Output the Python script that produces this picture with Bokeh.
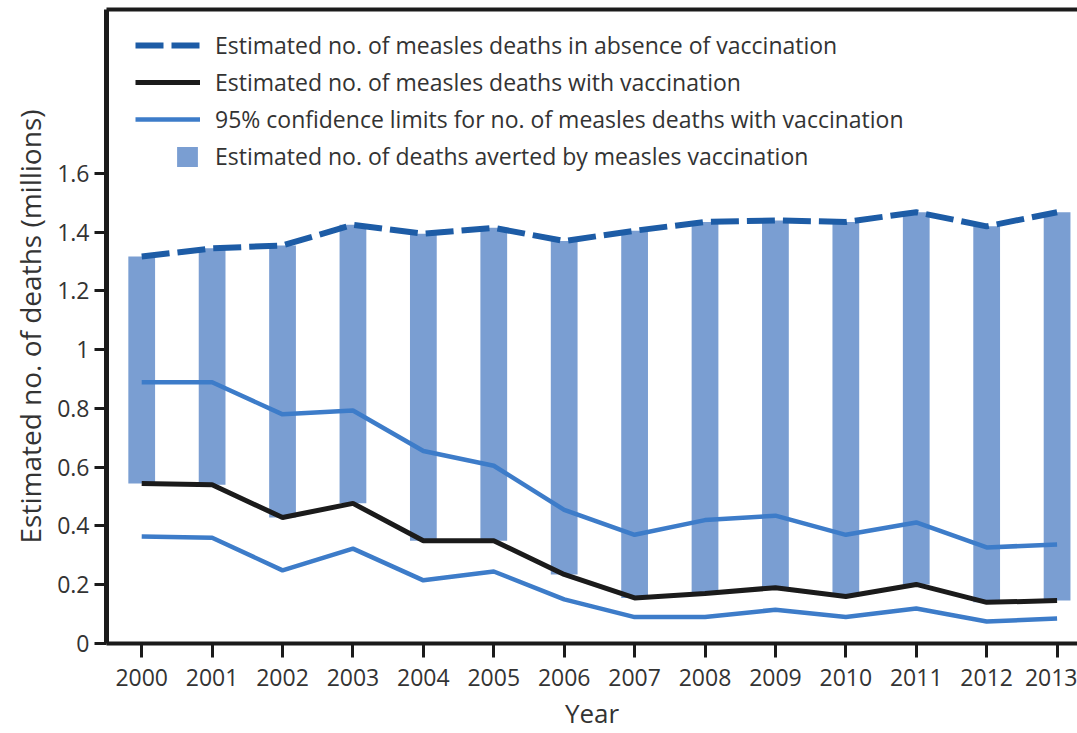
from bokeh.plotting import figure
from bokeh.models import (Range1d, FixedTicker, LinearAxis, Legend, LegendItem,
                          ColumnDataSource)
from bokeh.embed import file_html
from bokeh.resources import INLINE

# Estimated measles deaths (millions), 2000-2013
years = [2000, 2001, 2002, 2003, 2004, 2005, 2006,
         2007, 2008, 2009, 2010, 2011, 2012, 2013]
deaths_no_vaccination = [1.317, 1.345, 1.355, 1.425, 1.395, 1.415, 1.370,
                         1.405, 1.435, 1.440, 1.435, 1.468, 1.420, 1.468]
deaths_with_vaccination = [0.545, 0.540, 0.429, 0.477, 0.350, 0.350, 0.235,
                           0.155, 0.170, 0.190, 0.160, 0.201, 0.140, 0.146]
ci_upper = [0.889, 0.889, 0.780, 0.793, 0.655, 0.605, 0.455,
            0.370, 0.420, 0.435, 0.370, 0.412, 0.327, 0.337]
ci_lower = [0.364, 0.360, 0.249, 0.323, 0.215, 0.245, 0.150,
            0.090, 0.090, 0.115, 0.090, 0.119, 0.075, 0.085]

y_ticks = [0, 0.2, 0.4, 0.6, 0.8, 1.0, 1.2, 1.4, 1.6]
y_tick_labels = ["0", "0.2", "0.4", "0.6", "0.8", "1", "1.2", "1.4", "1.6"]
x_ticks = years
x_tick_labels = [str(y) for y in years]

legend_labels = [
    "Estimated no. of measles deaths in absence of vaccination",
    "Estimated no. of measles deaths with vaccination",
    "95% confidence limits for no. of measles deaths with vaccination",
    "Estimated no. of deaths averted by measles vaccination",
]

DASH_BLUE = "#1d5ca6"
BAR_BLUE = "#7a9ed2"
CI_BLUE = "#3d7cc9"
BLACK = "#1b1b1b"
TEXT = "#333333"
FONT = "Open Sans"

src = ColumnDataSource(dict(
    year=years,
    absent=deaths_no_vaccination,
    withv=deaths_with_vaccination,
    upper=ci_upper,
    lower=ci_lower,
))

p = figure(width=1077, height=733, output_backend="svg", toolbar_location=None,
           x_range=Range1d(1999.5, 2013.29), y_range=Range1d(0, 2.158),
           min_border_left=106, min_border_right=0, min_border_top=9,
           min_border_bottom=90)
p.outline_line_color = None
p.xgrid.visible = False
p.ygrid.visible = False
p.background_fill_color = "white"
p.border_fill_color = "white"

bars = p.vbar(x="year", width=0.38, bottom="withv", top="absent", source=src,
              fill_color=BAR_BLUE, line_color=None)
lo = p.line("year", "lower", source=src, line_color=CI_BLUE, line_width=4.5)
up = p.line("year", "upper", source=src, line_color=CI_BLUE, line_width=4.5)
mid = p.line("year", "withv", source=src, line_color=BLACK, line_width=5)
dash = p.line("year", "absent", source=src, line_color=DASH_BLUE, line_width=6,
              line_dash="28 8")

# axes
xa = p.xaxis[0]
xa.ticker = FixedTicker(ticks=x_ticks)
xa.major_label_overrides = {t: l for t, l in zip(x_ticks, x_tick_labels)}
xa.axis_label = "Year"
ya = p.yaxis[0]
ya.ticker = FixedTicker(ticks=y_ticks)
ya.major_label_overrides = {t: l for t, l in zip(y_ticks, y_tick_labels)}
ya.axis_label = "Estimated no. of deaths (millions)"

for ax in (xa, ya):
    ax.axis_line_color = BLACK
    ax.major_tick_line_color = BLACK
    ax.major_tick_line_width = 3
    ax.major_tick_in = 0
    ax.minor_tick_line_color = None
    ax.major_label_text_font = FONT
    ax.major_label_text_font_size = "23px"
    ax.major_label_text_color = TEXT
    ax.axis_label_text_font = FONT
    ax.axis_label_text_font_style = "normal"
    ax.axis_label_text_color = TEXT

xa.axis_label_text_font_size = "26px"
xa.axis_line_width = 4
xa.major_tick_out = 14
xa.major_label_standoff = 11
xa.axis_label_standoff = 6
ya.axis_label_text_font_size = "28px"
ya.axis_line_width = 5
ya.major_tick_out = 12
ya.major_label_standoff = 5
ya.axis_label_standoff = 5

top = LinearAxis(axis_line_color=BLACK, axis_line_width=4,
                 major_tick_line_color=None, minor_tick_line_color=None,
                 major_label_text_font_size="0px", ticker=FixedTicker(ticks=[]))
p.add_layout(top, "above")

# legend: three line entries, then the bar entry with a square swatch
common = dict(border_line_color=None, background_fill_alpha=0, padding=0,
              margin=0, label_text_font=FONT, label_text_font_size="23px",
              label_text_color=TEXT, label_standoff=15, spacing=5,
              label_height=24)
leg1 = Legend(items=[LegendItem(label=legend_labels[0], renderers=[dash]),
                     LegendItem(label=legend_labels[1], renderers=[mid]),
                     LegendItem(label=legend_labels[2], renderers=[up])],
              location=(29, 508), glyph_width=65, glyph_height=24, **common)
leg2 = Legend(items=[LegendItem(label=legend_labels[3], renderers=[bars])],
              location=(68, 471), glyph_width=26, glyph_height=25, **common)
p.add_layout(leg1, "center")
p.add_layout(leg2, "center")

open("out.html", "w").write(file_html(p, INLINE))
